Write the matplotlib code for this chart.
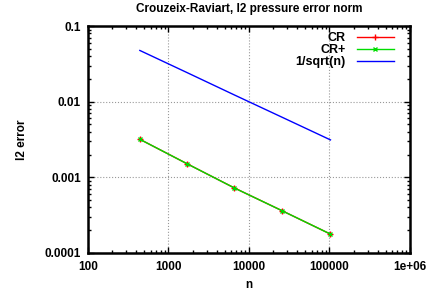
import matplotlib
matplotlib.use("Agg")
import matplotlib.pyplot as plt
from matplotlib.ticker import LogLocator, FixedLocator, NullFormatter

plt.rcParams['font.family'] = ['Liberation Sans', 'DejaVu Sans']
plt.rcParams['font.weight'] = 'bold'
plt.rcParams['font.size'] = 8.5

# number of unknowns and errors
n = [441, 1681, 6561, 25921, 103041]
cr = [0.00318, 0.00152, 0.000724, 0.000360, 0.000177]
cr_plus = [0.00318, 0.00152, 0.000724, 0.000360, 0.000177]
ref = [0.0476, 0.0244, 0.0123, 0.00621, 0.00312]  # 1/sqrt(n)

xticks = [100, 1000, 10000, 100000, 1000000]
xtick_labels = ['100', '1000', '10000', '100000', '1e+06']
yticks = [0.0001, 0.001, 0.01, 0.1]
ytick_labels = ['0.0001', '0.001', '0.01', '0.1']

fig = plt.figure(figsize=(4.27, 2.93), dpi=100)
ax = fig.add_axes([0.206, 0.137, 0.754, 0.774])

ax.plot(n, cr, color='#ff0000', marker='+', markersize=4, linewidth=1, label='CR')
ax.plot(n, cr_plus, color='#00dd00', marker='x', markersize=3.5, linewidth=1, label='CR+')
ax.plot(n, ref, color='#0000ff', linewidth=1, label='1/sqrt(n)')

ax.set_xscale('log')
ax.set_yscale('log')
ax.set_xlim(100, 1e6)
ax.set_ylim(1e-4, 0.1)

ax.xaxis.set_major_locator(FixedLocator(xticks))
ax.set_xticklabels(xtick_labels)
ax.yaxis.set_major_locator(FixedLocator(yticks))
ax.set_yticklabels(ytick_labels)
ax.xaxis.set_minor_locator(LogLocator(base=10, subs=range(2, 10)))
ax.yaxis.set_minor_locator(LogLocator(base=10, subs=range(2, 10)))
ax.xaxis.set_minor_formatter(NullFormatter())
ax.yaxis.set_minor_formatter(NullFormatter())

ax.tick_params(which='both', direction='in', top=True, right=True, width=1)
ax.tick_params(axis='x', which='major', length=4, pad=6)
ax.tick_params(axis='y', which='major', length=4, pad=5)
ax.tick_params(which='minor', length=2)
for s in ax.spines.values():
    s.set_linewidth(1.8)

ax.grid(True, which='major', linestyle=':', color='#999999', linewidth=0.8)

ax.set_title('Crouzeix-Raviart, l2 pressure error norm', fontsize=8.5, fontweight='bold', pad=10)
ax.set_xlabel('n', fontweight='bold', labelpad=4)
ax.set_ylabel('l2 error', fontweight='bold', labelpad=12)

ax.legend(loc='upper right', frameon=False, markerfirst=False, handlelength=3.0,
          handletextpad=0.9, labelspacing=0.0, borderaxespad=0.2,
          borderpad=0.3, fontsize=9, bbox_to_anchor=(0.97, 1.0))

fig.savefig('out.png', dpi=100)
